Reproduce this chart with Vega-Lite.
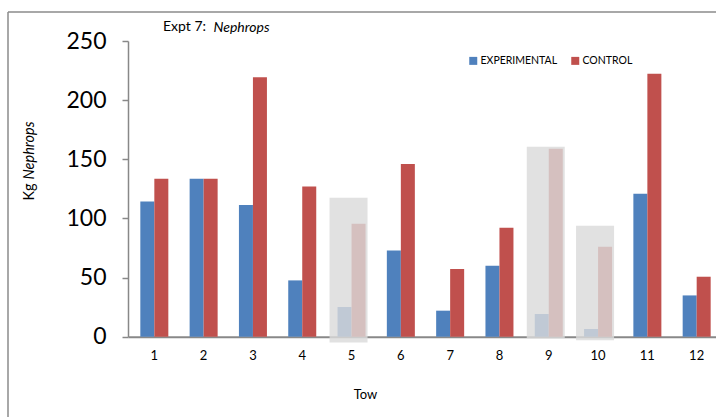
{
  "$schema": "https://vega.github.io/schema/vega-lite/v6.json",
  "width": 708,
  "height": 405,
  "autosize": {"type": "none"},
  "padding": {"left": 8, "top": 12, "right": 0, "bottom": 0},
  "background": "white",
  "config": {
    "view": {"stroke": "#8c8c8c", "strokeWidth": 1.5, "strokeDash": [708, 1113, 405, 0]},
    "font": "Lato",
    "axis": {"grid": false}
  },
  "title": {
    "text": "Expt 7:",
    "anchor": "start",
    "frame": "group",
    "orient": "top",
    "offset": 0,
    "dx": 155,
    "dy": 22,
    "fontSize": 14,
    "fontWeight": "normal",
    "color": "#000000"
  },
  "datasets": {
    "catch": [
      {"tow": 1, "series": "EXPERIMENTAL", "kg": 114.3},
      {"tow": 1, "series": "CONTROL", "kg": 133.5},
      {"tow": 2, "series": "EXPERIMENTAL", "kg": 133.5},
      {"tow": 2, "series": "CONTROL", "kg": 133.5},
      {"tow": 3, "series": "EXPERIMENTAL", "kg": 111.3},
      {"tow": 3, "series": "CONTROL", "kg": 219.3},
      {"tow": 4, "series": "EXPERIMENTAL", "kg": 47.6},
      {"tow": 4, "series": "CONTROL", "kg": 126.9},
      {"tow": 5, "series": "EXPERIMENTAL", "kg": 25.1},
      {"tow": 5, "series": "CONTROL", "kg": 95.4},
      {"tow": 6, "series": "EXPERIMENTAL", "kg": 72.9},
      {"tow": 6, "series": "CONTROL", "kg": 146.1},
      {"tow": 7, "series": "EXPERIMENTAL", "kg": 22.0},
      {"tow": 7, "series": "CONTROL", "kg": 57.2},
      {"tow": 8, "series": "EXPERIMENTAL", "kg": 60.0},
      {"tow": 8, "series": "CONTROL", "kg": 92.1},
      {"tow": 9, "series": "EXPERIMENTAL", "kg": 19.2},
      {"tow": 9, "series": "CONTROL", "kg": 158.8},
      {"tow": 10, "series": "EXPERIMENTAL", "kg": 6.5},
      {"tow": 10, "series": "CONTROL", "kg": 76.0},
      {"tow": 11, "series": "EXPERIMENTAL", "kg": 120.8},
      {"tow": 11, "series": "CONTROL", "kg": 222.4},
      {"tow": 12, "series": "EXPERIMENTAL", "kg": 34.9},
      {"tow": 12, "series": "CONTROL", "kg": 50.7}
    ],
    "boxes": [
      {"tow": 5, "top": 117.4, "bottom": -4.8},
      {"tow": 9, "top": 160.5, "bottom": -1.1},
      {"tow": 10, "top": 93.8, "bottom": -3.1}
    ]
  },
  "resolve": {"axis": {"x": "independent", "y": "independent"}},
  "layer": [
    {
      "data": {"name": "catch"},
      "mark": {"type": "bar"},
      "encoding": {
        "x": {
          "field": "tow",
          "type": "ordinal",
          "scale": {"domain": [1,2,3,4,5,6,7,8,9,10,11,12], "range": [120, 715], "paddingInner": 0.432, "paddingOuter": 0.25},
          "axis": {
            "orient": "bottom",
            "offset": -80.3,
            "domainColor": "#888888",
            "domainWidth": 2,
            "ticks": false,
            "labelAngle": 0,
            "labelFontSize": 13,
            "labelColor": "#000000",
            "labelPadding": 13,
            "title": "Tow",
            "titleFontSize": 13,
            "titleFontWeight": "normal",
            "titleColor": "#000000",
            "titleX": 357,
            "titleY": 58,
            "titleBaseline": "middle",
            "titleAlign": "center"
          }
        },
        "xOffset": {"field": "series", "type": "nominal", "scale": {"domain": ["EXPERIMENTAL", "CONTROL"]}},
        "y": {
          "field": "kg",
          "type": "quantitative",
          "scale": {"domain": [0, 250], "range": [324.7, 29], "nice": false, "zero": true},
          "axis": {
            "orient": "left",
            "offset": -120,
            "values": [0, 50, 100, 150, 200, 250],
            "domainColor": "#888888",
            "domainWidth": 1.5,
            "tickColor": "#888888",
            "tickWidth": 1.5,
            "tickSize": 6,
            "labelFontSize": 23,
            "labelColor": "#000000",
            "labelPadding": 16,
            "title": "Kg",
            "titleFontSize": 14.5,
            "titleFontWeight": "normal",
            "titleColor": "#000000",
            "titleAngle": -90,
            "titleX": -99,
            "titleY": 188,
            "titleAlign": "left",
            "titleBaseline": "middle"
          }
        },
        "color": {
          "field": "series",
          "type": "nominal",
          "scale": {"domain": ["EXPERIMENTAL", "CONTROL"], "range": ["#4f81bd", "#c0504d"]},
          "legend": {
            "orient": "none",
            "legendX": 460,
            "legendY": 43.5,
            "direction": "horizontal",
            "title": null,
            "symbolType": "square",
            "symbolSize": 64,
            "symbolStrokeWidth": 0,
            "symbolOpacity": 1,
            "labelFontSize": 10.5,
            "labelColor": "#000000",
            "labelOffset": 2,
            "columnPadding": 12
          }
        }
      }
    },
    {
      "data": {"name": "boxes"},
      "mark": {"type": "bar", "width": 38, "xOffset": -3, "color": "#dadada", "opacity": 0.81},
      "encoding": {
        "x": {
          "field": "tow",
          "type": "ordinal",
          "scale": {"domain": [1,2,3,4,5,6,7,8,9,10,11,12], "range": [120, 715], "paddingInner": 0.432, "paddingOuter": 0.25},
          "axis": {
            "orient": "top",
            "domain": false,
            "ticks": false,
            "labels": false,
            "title": "Nephrops",
            "titleFontStyle": "italic",
            "titleFontWeight": "normal",
            "titleFontSize": 14,
            "titleColor": "#000000",
            "titleX": 205,
            "titleY": 15.7,
            "titleAlign": "left",
            "titleBaseline": "middle"
          }
        },
        "y": {
          "field": "top",
          "type": "quantitative",
          "scale": {"domain": [0, 250], "range": [324.7, 29], "nice": false, "zero": true},
          "axis": {
            "orient": "left",
            "offset": -120,
            "domain": false,
            "ticks": false,
            "labels": false,
            "title": "Nephrops",
            "titleFontStyle": "italic",
            "titleFontWeight": "normal",
            "titleFontSize": 14.5,
            "titleColor": "#000000",
            "titleAngle": -90,
            "titleX": -99,
            "titleY": 167,
            "titleAlign": "left",
            "titleBaseline": "middle"
          }
        },
        "y2": {"field": "bottom"}
      }
    }
  ]
}
